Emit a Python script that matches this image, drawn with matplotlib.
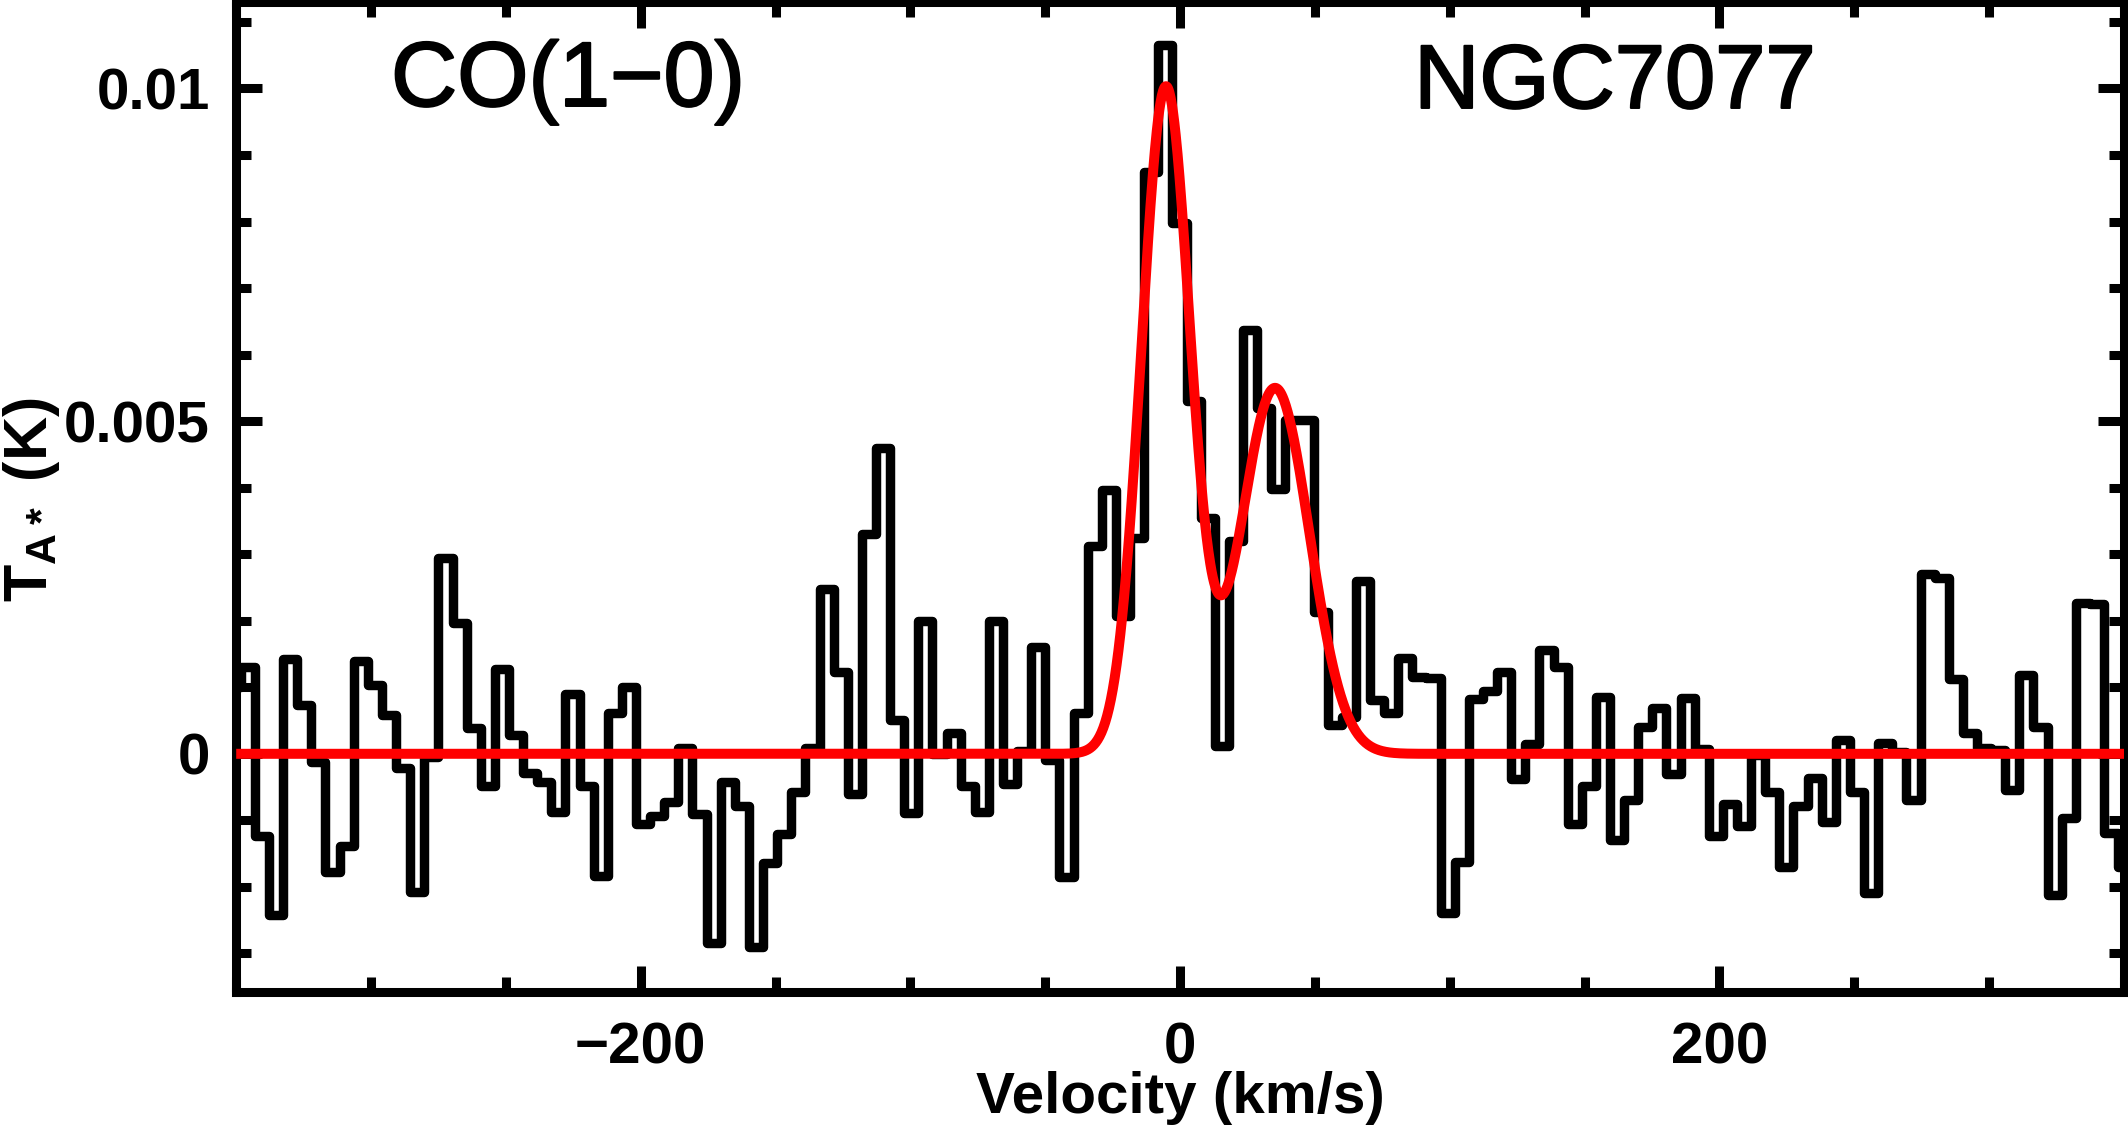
import numpy as np
import matplotlib.pyplot as plt
import matplotlib.patheffects as pe
from matplotlib.ticker import MultipleLocator

plt.rcParams['font.family'] = ['Liberation Sans', 'DejaVu Sans']
plt.rcParams['mathtext.fontset'] = 'custom'
plt.rcParams['mathtext.rm'] = 'Liberation Sans:bold'
plt.rcParams['mathtext.bf'] = 'Liberation Sans:bold'

# spectrum: channel grid (km/s) and antenna temperature per channel (mK)
first_edge = -353.53
chan_width = 5.234
t_mk = [
    1.00, 1.31, -1.24, -2.42, 1.43, 0.74, -0.12, -1.78, -1.38, 1.39,
    1.04, 0.59, -0.22, -2.07, -0.05, 2.94, 1.96, 0.39, -0.49, 1.27,
    0.29, -0.29, -0.43, -0.87, 0.90, -0.48, -1.83, 0.61, 1.01, -1.05,
    -0.94, -0.72, 0.08, -0.90, -2.85, -0.42, -0.78, -2.91, -1.64, -1.20,
    -0.58, 0.09, 2.47, 1.23, -0.61, 3.30, 4.60, 0.51, -0.89, 1.99,
    0.00, 0.31, -0.49, -0.87, 2.00, -0.46, 0.04, 1.61, -0.10, -1.85,
    0.61, 3.12, 3.97, 2.07, 3.25, 8.75, 10.65, 7.98, 5.30, 3.55,
    0.11, 3.20, 6.37, 5.20, 3.98, 5.01, 5.01, 2.13, 0.43, 0.55,
    2.60, 0.81, 0.61, 1.44, 1.15, 1.14, -2.40, -1.63, 0.83, 0.95,
    1.23, -0.38, 0.15, 1.56, 1.31, -1.05, -0.49, 0.85, -1.29, -0.69,
    0.41, 0.69, -0.31, 0.84, 0.07, -1.24, -0.75, -1.09, -0.02, -0.58,
    -1.70, -0.78, -0.36, -1.02, 0.21, -0.58, -2.09, 0.16, 0.03, -0.70,
    2.70, 2.65, 1.12, 0.32, 0.09, 0.06, -0.55, 1.19, 0.41, -2.12,
    -0.97, 2.26, 2.25, -1.19, -1.70,
]

# double gaussian fit
fit_amp = [0.0100, 0.0055]      # K
fit_center = [-5.3, 35.2]       # km/s
fit_sigma = [9.1, 12.7]         # km/s

line_name = "CO(1\u22120)"
galaxy = "NGC7077"

values = np.array(t_mk) / 1000.0
edges = first_edge + chan_width * np.arange(len(values) + 1)

v_fit = np.linspace(-350, 350, 3001)
fit = np.zeros_like(v_fit)
for a, c, s in zip(fit_amp, fit_center, fit_sigma):
    fit += a * np.exp(-0.5 * ((v_fit - c) / s) ** 2)

fig = plt.figure(figsize=(21.28, 11.28), dpi=100)
ax = fig.add_axes([236.2 / 2128, (1128 - 992) / 1128,
                   (2124 - 236.2) / 2128, (992 - 2) / 1128])

ax.stairs(values, edges, baseline=None, color='black', linewidth=6.8,
          joinstyle='round', zorder=2)
ax.plot(v_fit, fit, color='red', linewidth=7.2, zorder=3,
        solid_capstyle='butt')

ax.set_xlim(-350, 350)
ax.set_ylim(-0.00358, 0.0113)

for s in ax.spines.values():
    s.set_linewidth(6.5)

ax.set_xticks([-200, 0, 200], labels=['\u2212200', '0', '200'])
ax.set_yticks([0, 0.005, 0.01], labels=['0', '0.005', '0.01'])
ax.xaxis.set_minor_locator(MultipleLocator(50))
ax.yaxis.set_minor_locator(MultipleLocator(0.001))
ax.tick_params(which='both', direction='in', top=True, right=True,
               width=6.5, labelsize=42)
ax.tick_params(which='major', length=19)
ax.tick_params(which='minor', length=11)
ax.tick_params(axis='x', which='major', pad=21)
ax.tick_params(axis='y', which='major', pad=19)
for lab in ax.get_xticklabels() + ax.get_yticklabels():
    lab.set_fontweight('bold')

ax.set_xlabel('Velocity (km/s)', fontsize=42, fontweight='bold')
ax.xaxis.label.set_va('baseline')
ax.xaxis.set_label_coords(0.5, -0.1225)

ax.set_ylabel(r'T$_{\mathbf{A*}}$ (K)', fontsize=44, fontweight='bold')
ax.yaxis.label.set_rotation_mode('anchor')
ax.yaxis.label.set_va('baseline')
ax.yaxis.label.set_ha('center')
ax.yaxis.set_label_coords(-0.1002, 0.497)

thick = [pe.withStroke(linewidth=1.5, foreground='black')]
ax.text(0.082, 0.895, line_name, transform=ax.transAxes, fontsize=66,
        ha='left', va='baseline', path_effects=thick)
ax.text(0.624, 0.893, galaxy, transform=ax.transAxes, fontsize=65,
        ha='left', va='baseline', path_effects=thick)

fig.savefig('out.png', dpi=100)
